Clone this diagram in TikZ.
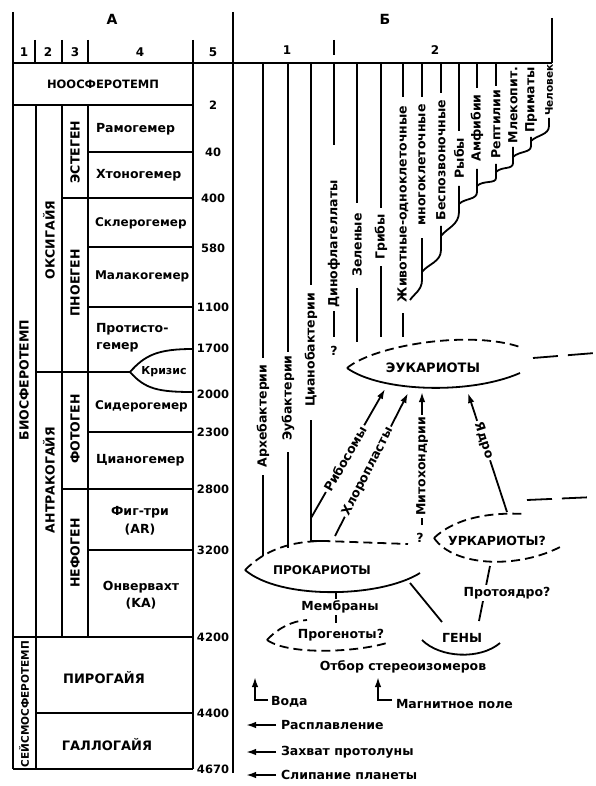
\documentclass[tikz,border=0pt]{standalone}
\usepackage{fontspec}
\setmainfont{DejaVu Sans}
\usetikzlibrary{arrows.meta}
\newcommand\fsz[1]{\bfseries\fontsize{#1}{#1}\selectfont}
\begin{document}
\begin{tikzpicture}[x=1pt,y=-1pt,line width=1.8pt,
  every node/.style={inner sep=0pt,outer sep=0pt,font=\fsz{12.5}},
  vt/.style={rotate=90},
  num/.style={font=\fsz{11.5}},
  hd/.style={font=\fsz{12}},
  big/.style={font=\fsz{14}},
  dsh/.style={dash pattern=on 9pt off 5pt},
  ldsh/.style={dash pattern=on 25pt off 10pt},
  arr/.style={-{Latex[length=10pt,width=6.5pt]}},
  lab/.style={fill=white,inner sep=2pt,sloped}
]
\useasboundingbox (0,0) rectangle (595,786);
% ---------- frame ----------
\draw (13,12) -- (13,769);
\draw (233,12) -- (233,773);
\draw (13,63) -- (552,63);
\draw (552,18) -- (552,63);
\foreach \x in {35,62,88} \draw (\x,40) -- (\x,63);
\draw (193,40) -- (193,769);
\draw (334,40) -- (334,55);
\node[big] (hA) at (112,19) {А};
\node[big] (hB) at (385,19) {Б};
\node[hd] (c1) at (24,52) {1};
\node[hd] (c2) at (48,52) {2};
\node[hd] (c3) at (75,52) {3};
\node[hd] (c4) at (140,52) {4};
\node[hd] (c5) at (213,52) {5};
\node[hd] (b1) at (287,50) {1};
\node[hd] (b2) at (435,50) {2};
% ---------- table ----------
\draw (13,105) -- (193,105);
\draw (36,105) -- (36,769);
\draw (62,105) -- (62,637);
\draw (88,105) -- (88,637);
\foreach \y in {152,247,307,432,550} \draw (88,\y) -- (193,\y);
\draw (62,198) -- (193,198);
\draw (62,489) -- (193,489);
\draw (13,637) -- (193,637);
\draw (36,713) -- (193,713);
\draw (13,769) -- (193,769);
\draw (36,372) -- (130,372);
\draw (130,372) .. controls (145,355) and (158,349) .. (193,349);
\draw (130,372) .. controls (145,389) and (158,392) .. (193,392);
\node[font=\fsz{11.5}] (noo) at (103,84) {НООСФЕРОТЕМП};
\node[anchor=west] (t1) at (96,129) {Рамогемер};
\node[anchor=west] (t2) at (96,175) {Хтоногемер};
\node[anchor=west,font=\fsz{12}] (t3) at (95,223) {Склерогемер};
\node[anchor=west,font=\fsz{12}] (t4) at (95,276) {Малакогемер};
\node[anchor=west] (t5a) at (96,329) {Протисто-};
\node[anchor=west] (t5b) at (96,347) {гемер};
\node[font=\fsz{11}] (kr) at (164,372) {Кризис};
\node[anchor=west,font=\fsz{12}] (t6) at (95,406) {Сидерогемер};
\node[anchor=west] (t7) at (96,460) {Цианогемер};
\node (t8a) at (140,512) {Фиг-три};
\node (t8b) at (140,530) {(AR)};
\node (t9a) at (141,587) {Онвервахт};
\node (t9b) at (141,604) {(KA)};
\node[font=\fsz{13}] (t10) at (104,678) {ПИРОГАЙЯ};
\node[font=\fsz{13}] (t11) at (107,745) {ГАЛЛОГАЙЯ};
\node[vt] (v1) at (24,380) {БИОСФЕРОТЕМП};
\node[vt,font=\fsz{10.5}] (v2) at (24,704) {СЕЙСМОСФЕРОТЕМП};
\node[vt] (v3) at (49,240) {ОКСИГАЙЯ};
\node[vt] (v4) at (49,480) {АНТРАКОГАЙЯ};
\node[vt] (v5) at (75,152) {ЭСТЕГЕН};
\node[vt] (v6) at (75,283) {ПНОЕГЕН};
\node[vt] (v7) at (75,429) {ФОТОГЕН};
\node[vt] (v8) at (75,553) {НЕФОГЕН};
\foreach \n/\y in {2/105,40/152,400/198,580/248,1100/307,1700/348,2000/394,2300/432,2800/489,3200/550,4200/637,4400/713,4670/769}
  \node[num] (n\n) at (213,\y) {\n};
% ---------- B: column 1 ----------
\draw (263,63) -- (263,358);
\node[vt] (l1) at (263,416) {Архебактерии};
\draw (263,475) -- (263,556);
\draw (288,63) -- (288,352);
\node[vt] (l2) at (288,398) {Эубактерии};
\draw (288,452) -- (288,548);
\draw (311,63) -- (311,285);
\node[vt] (l3) at (311,350) {Цианобактерии};
\draw (311,420) -- (311,541) -- (326,541);
\draw (334,63) -- (334,145);
\node[vt] (l4) at (334,244) {Динофлагеллаты};
\draw (334,311) -- (334,337);
\node (q1) at (334,351) {?};
\draw (357,63) -- (357,203);
\node[vt] (l5) at (357,245) {Зеленые};
\draw (357,288) -- (357,342);
\draw (381,63) -- (381,208);
\node[vt] (l6) at (381,237) {Грибы};
\draw (381,266) -- (381,337);
\draw (403,63) -- (403,97);
\node[vt] (l7) at (403,204) {Животные-одноклеточные};
\draw (403,313) -- (403,337);
% ---------- B: column 2 (tree) ----------
\draw (422,63) -- (422,97);
\node[vt] (m1) at (422,165) {многоклеточные};
\draw (422,238) -- (422,280) .. controls (422,290) and (414,294) .. (410,300);
\draw (441,63) -- (441,93);
\node[vt] (m2) at (441,160) {Беспозвоночные};
\draw (441,226) -- (441,250) .. controls (441,262) and (428,264) .. (422,272);
\draw (459,63) -- (459,131);
\node[vt] (m3) at (459,158) {Рыбы};
\draw (459,186) -- (459,212) .. controls (459,225) and (447,228) .. (441,236);
\draw (477,63) -- (477,88);
\node[vt] (m4) at (477,128) {Амфибии};
\draw (477,169) -- (477,192) .. controls (477,200) and (465,198) .. (459,204);
\draw (496,63) -- (496,86);
\node[vt] (m5) at (496,124) {Рептилии};
\draw (496,164) -- (496,178) .. controls (496,184) and (483,180) .. (477,186);
\node[vt] (m6) at (513,105) {Млекопит.};
\draw (513,147) -- (513,163) .. controls (513,170) and (502,166) .. (496,172);
\node[vt] (m7) at (531,100) {Приматы};
\draw (531,137) -- (531,146) .. controls (531,153) and (519,151) .. (513,157);
\node[vt,font=\fsz{10.5}] (m8) at (549,90) {Человек};
\draw (549,118) -- (549,126) .. controls (549,135) and (537,135) .. (531,141);
% ---------- eukaryotes ----------
\draw[dsh] (347,368) .. controls (375,345) and (470,330) .. (520,347);
\draw (347,368) .. controls (380,392) and (470,395) .. (520,373);
\node[font=\fsz{13}] (euk) at (433,368) {ЭУКАРИОТЫ};
\draw[ldsh] (533,358) -- (595,353);
\draw[ldsh] (527,500) -- (595,497);
% ---------- prokaryotes ----------
\draw[dsh] (245,570) .. controls (265,550) and (290,541) .. (325,541) -- (408,544);
\draw (245,570) .. controls (280,600) and (380,598) .. (420,573);
\node[font=\fsz{12}] (pro) at (322,570) {ПРОКАРИОТЫ};
% ---------- urkaryotes ----------
\draw[dsh] (434,538) .. controls (455,518) and (490,512) .. (525,514);
\draw[dsh] (434,538) .. controls (455,568) and (520,568) .. (560,547);
\node (urk) at (497,541) {УРКАРИОТЫ?};
\node (q2) at (420,538) {?};
% ---------- arrows to eukaryotes ----------
\coordinate (rb0) at (311,518);
\coordinate (rbE) at (385,389);
\draw[arr] (rb0) -- (rbE) node[lab,pos=.46] (rib) {Рибосомы};
\coordinate (ch0) at (335,536);
\coordinate (chE) at (408,393);
\draw[arr] (ch0) -- (chE) node[lab,pos=.45] (chl) {Хлоропласты};
\coordinate (mi0) at (422,525);
\coordinate (miE) at (422,392);
\draw[arr] (mi0) -- (miE) node[lab,pos=.44] (mit) {Митохондрии};
\coordinate (ya0) at (507,512);
\coordinate (yaE) at (468,393);
\draw[arr] (ya0) -- (yaE) node[lab,pos=.6] (yad) {Ядро};
% ---------- lower part ----------
\coordinate (pg0) at (410,583);
\coordinate (pg1) at (442,622);
\draw (pg0) -- (pg1);
\coordinate (py0) at (490,566);
\coordinate (py1) at (479,621);
\draw (py0) -- (py1);
\node[fill=white,inner sep=2pt] (pya) at (507,593) {Протоядро?};
\node (gen) at (462,638) {ГЕНЫ};
\draw (422,640) .. controls (440,658) and (480,660) .. (500,643);
\coordinate (mb0) at (336,592);
\coordinate (mb1) at (336,623);
\draw (mb0) -- (mb1);
\node[fill=white,inner sep=2pt] (mem) at (340,607) {Мембраны};
\draw[dsh] (267,640) .. controls (278,628) and (292,621) .. (307,620);
\draw[dsh] (267,640) .. controls (290,656) and (360,652) .. (390,642);
\node (prg) at (341,635) {Прогеноты?};
\node (otb) at (403,667) {Отбор стереоизомеров};
% ---------- bottom arrows ----------
\draw[arr] (268,700) -- (255,700) -- (255,677);
\node[anchor=west] (vod) at (271,702) {Вода};
\draw[arr] (392,700) -- (378,700) -- (378,677);
\node[anchor=west] (mag) at (396,704) {Магнитное поле};
\draw[arr] (276,725) -- (246,725);
\node[anchor=west] (ras) at (281,725) {Расплавление};
\draw[arr] (276,752) -- (246,752);
\node[anchor=west] (zah) at (281,752) {Захват протолуны};
\draw[arr] (276,775) -- (246,775);
\node[anchor=west] (sli) at (281,775) {Слипание планеты};
\end{tikzpicture}
\end{document}
